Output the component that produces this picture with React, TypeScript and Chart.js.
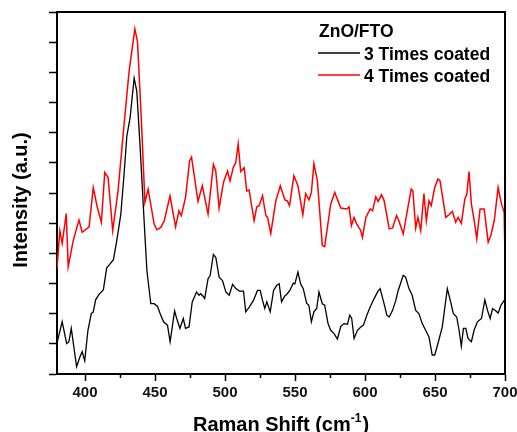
import React, { useEffect, useRef } from "react";
import { Chart, registerables } from "chart.js";

Chart.register(...registerables);

// Raman spectrum, ZnO/FTO, 3 times coated (black)
const shift3 = [380, 383.7, 386.9, 388.5, 390.2, 394, 396.4, 398, 399.8, 402.1, 404.5, 405.9, 407.6, 410, 413.1, 415.5, 417.9, 420.3, 422.7, 425.6, 427.9, 429.9, 432.2, 435.1, 437, 439.4, 441.7, 444.2, 447, 449.4, 451.8, 453.7, 456.1, 458.9, 460.8, 464, 465.9, 467.8, 470.2, 471.8, 474.3, 476.6, 479.7, 481.4, 482.6, 484.5, 485.5, 487.9, 489.4, 491.7, 493.4, 495.8, 498.2, 500.6, 503, 505.4, 507.8, 510.2, 513.2, 514.8, 517.3, 520.3, 523.2, 525.1, 526.8, 528.4, 529.9, 532.3, 534.7, 537, 538.7, 540.4, 542.6, 544.5, 546.3, 548.8, 549.9, 552.1, 554, 555.9, 558.3, 559.9, 561.7, 563.5, 565.5, 567.1, 569.5, 571.2, 573.6, 575.5, 577.9, 580.3, 582.7, 585, 587.5, 589.1, 590.5, 592.2, 594.6, 597, 598.9, 601.3, 603.7, 606.5, 609, 610.8, 613.3, 615.6, 617.3, 619.7, 622, 623.6, 627.3, 629, 631.4, 633.7, 636.2, 638.5, 640.9, 643.3, 645.7, 648, 649.8, 652.1, 655.2, 658.8, 661.2, 663.1, 665.5, 667.2, 668.8, 670.3, 672, 673.6, 676, 677.9, 680.3, 683.2, 685.6, 687.5, 689.4, 691.1, 693.5, 695.1, 697.1, 699.4, 700];
const intensity3 = [1.03, 1.73, 1.01, 1.07, 1.51, 0.24, 0.57, 0.74, 0.44, 1.45, 2.0, 2.06, 2.46, 2.64, 2.79, 3.52, 3.65, 3.79, 4.42, 5.3, 6.62, 7.89, 8.49, 9.81, 9.37, 7.5, 5.52, 3.43, 2.33, 2.33, 2.24, 2.0, 1.73, 1.62, 1.07, 2.09, 1.78, 1.51, 1.84, 1.51, 1.56, 2.39, 2.72, 2.61, 2.66, 2.57, 2.5, 3.16, 3.27, 3.96, 3.87, 3.21, 3.1, 2.72, 2.61, 2.97, 2.83, 2.75, 2.75, 2.06, 2.22, 2.44, 2.77, 2.77, 2.44, 2.17, 2.39, 2.06, 2.77, 2.94, 2.99, 2.39, 2.58, 2.66, 2.77, 3.01, 2.99, 3.38, 2.99, 2.83, 2.35, 2.28, 1.73, 2.06, 2.17, 2.72, 2.33, 2.28, 1.67, 1.45, 1.34, 1.16, 1.58, 1.67, 1.65, 1.95, 1.84, 1.18, 1.45, 1.56, 1.62, 1.95, 2.22, 2.5, 2.72, 2.83, 2.39, 1.95, 1.89, 2.11, 2.44, 2.75, 3.27, 3.21, 2.83, 2.61, 2.11, 2.0, 1.67, 1.45, 1.23, 0.63, 0.63, 1.01, 1.56, 2.83, 2.39, 2.0, 1.89, 1.45, 0.92, 1.51, 1.51, 1.18, 1.07, 1.45, 1.73, 1.84, 2.46, 2.11, 1.84, 2.17, 2.09, 2.02, 2.28, 2.44, 2.44];

// 4 times coated (red)
const shift4 = [380, 382, 383.7, 386.6, 388, 391.6, 395.7, 398, 402.9, 405.9, 408.8, 411.7, 414.1, 416.5, 419.8, 423.6, 427.9, 431.5, 435.6, 437.5, 440.3, 442.8, 445.1, 449.4, 451.3, 454.2, 456.6, 460.7, 464.7, 467.1, 468.8, 471.8, 474.7, 476.1, 480.7, 483.8, 487.9, 491.7, 493.4, 495.8, 498.9, 501.8, 503.6, 506, 507.7, 509.4, 511.2, 513.7, 515.5, 517.2, 520.8, 522.7, 524.4, 526.8, 529.2, 530.4, 532.7, 536.3, 539.5, 542.8, 544.5, 546.1, 549.2, 552.1, 555.6, 557.6, 560, 561.7, 563.5, 566, 569.5, 571.2, 575.5, 578.4, 582.7, 587, 588.6, 590.3, 592.2, 594.1, 597, 598.2, 600.6, 603.7, 605.4, 607.7, 609.4, 611.8, 613.7, 617.3, 619.7, 622.5, 624.2, 627.3, 630.2, 633, 634.2, 636.2, 637.8, 639.8, 642.1, 643.8, 645.7, 647.3, 649.8, 652.1, 653.6, 657.7, 660, 662.4, 664.8, 666.5, 668.8, 671.3, 672.7, 674.3, 676, 678.4, 679.8, 682.2, 685.1, 688, 689.9, 692.3, 695.1, 697.5, 699.4, 700];
const intensity4 = [3.49, 4.75, 4.33, 5.32, 3.56, 4.42, 5.1, 4.7, 4.88, 6.18, 5.52, 5.03, 6.68, 6.51, 4.75, 6.07, 8.27, 10.03, 11.44, 11.02, 8.38, 5.69, 6.13, 4.97, 4.78, 4.86, 5.08, 5.9, 4.88, 5.41, 5.25, 5.85, 7.06, 7.19, 5.72, 6.24, 5.3, 6.95, 6.73, 5.5, 6.35, 6.73, 6.4, 6.86, 7.01, 7.63, 6.71, 6.84, 6.07, 6.1, 5.08, 5.54, 5.58, 5.91, 5.25, 5.19, 4.66, 5.74, 6.24, 5.77, 5.74, 5.58, 6.57, 6.24, 5.28, 5.98, 5.77, 6.02, 6.97, 6.4, 4.26, 4.22, 5.63, 6.02, 5.5, 5.47, 5.54, 4.92, 5.19, 4.97, 4.75, 4.53, 5.19, 5.47, 5.41, 5.87, 5.72, 5.94, 5.74, 4.81, 4.84, 5.25, 5.08, 4.64, 5.41, 6.13, 6.07, 4.84, 5.19, 4.75, 5.98, 5.08, 5.74, 5.58, 6.18, 6.46, 6.4, 5.19, 5.28, 5.39, 5.03, 5.19, 4.99, 5.8, 5.96, 6.71, 5.63, 4.97, 4.48, 5.47, 5.47, 4.37, 4.59, 5.08, 6.18, 5.63, 5.36, 3.82];

const seriesLabels = ["3 Times coated", "4 Times coated"];
const legendTitle = "ZnO/FTO";
const xTitleMain = "Raman Shift (cm";
const xTitleSup = "-1";
const xTitleEnd = ")";
const yTitle = "Intensity (a.u.)";
const xMin = 380;
const xMax = 700;
const xMajorStep = 50;
const xMinorStep = 25;
const yMin = 0;
const yMax = 12;
const yStep = 1;

const FONT = '"Liberation Sans", Arial, sans-serif';

const decorPlugin = {
  id: "decor",
  afterDraw(chart: any) {
    const { ctx, chartArea: a, scales } = chart;
    const xs = scales.x;
    ctx.save();
    // frame top & right
    ctx.strokeStyle = "#000";
    ctx.lineWidth = 2;
    ctx.beginPath();
    ctx.moveTo(a.left - 1, a.top);
    ctx.lineTo(a.right, a.top);
    ctx.lineTo(a.right, a.bottom);
    ctx.stroke();
    // minor x ticks
    ctx.lineWidth = 1.5;
    ctx.beginPath();
    for (let v = xMin; v <= xMax; v += 1) {
      if (v % xMinorStep === 0 && v % xMajorStep !== 0) {
        const px = Math.round(xs.getPixelForValue(v)) + 0.5;
        ctx.moveTo(px, a.bottom);
        ctx.lineTo(px, a.bottom + 4);
      }
    }
    ctx.stroke();
    // x title with superscript
    ctx.fillStyle = "#000";
    ctx.textBaseline = "alphabetic";
    ctx.textAlign = "left";
    const mainFont = `bold 20px ${FONT}`;
    const supFont = `bold 12px ${FONT}`;
    ctx.font = mainFont;
    const w1 = ctx.measureText(xTitleMain).width;
    const w3 = ctx.measureText(xTitleEnd).width;
    ctx.font = supFont;
    const w2 = ctx.measureText(xTitleSup).width;
    const total = w1 + w2 + w3 + 1;
    let sx = (a.left + a.right) / 2 - total / 2;
    const base = 431;
    ctx.font = mainFont;
    ctx.fillText(xTitleMain, sx, base);
    sx += w1;
    ctx.font = supFont;
    ctx.fillText(xTitleSup, sx, base - 9);
    sx += w2 + 1;
    ctx.font = mainFont;
    ctx.fillText(xTitleEnd, sx, base);
    // y title
    ctx.save();
    ctx.translate(27, 200);
    ctx.rotate(-Math.PI / 2);
    ctx.textAlign = "center";
    ctx.font = `bold 20px ${FONT}`;
    ctx.fillText(yTitle, 0, 0);
    ctx.restore();
    // legend
    ctx.font = `bold 17.5px ${FONT}`;
    ctx.textAlign = "left";
    ctx.fillText(legendTitle, 319, 37);
    const ds = chart.data.datasets;
    ds.forEach((d: any, i: number) => {
      const cy = 53 + i * 22;
      ctx.strokeStyle = d.borderColor;
      ctx.lineWidth = 1.5;
      ctx.beginPath();
      ctx.moveTo(318, cy);
      ctx.lineTo(360, cy);
      ctx.stroke();
      ctx.fillStyle = "#000";
      ctx.fillText(d.label, 364, cy + 6.5);
    });
    ctx.restore();
  },
};

export default function App() {
  const ref = useRef<HTMLCanvasElement | null>(null);
  useEffect(() => {
    if (!ref.current) return;
    const chart = new Chart(ref.current, {
      type: "line",
      data: {
        datasets: [
          {
            label: seriesLabels[0],
            data: shift3.map((x, i) => ({ x, y: intensity3[i] })),
            borderColor: "#000000",
            borderWidth: 1.3,
            pointRadius: 0,
            tension: 0,
            fill: false,
          },
          {
            label: seriesLabels[1],
            data: shift4.map((x, i) => ({ x, y: intensity4[i] })),
            borderColor: "#ff0000",
            borderWidth: 1.5,
            pointRadius: 0,
            tension: 0,
            fill: false,
          },
        ],
      },
      options: {
        animation: false,
        responsive: false,
        maintainAspectRatio: false,
        devicePixelRatio: 1,
        layout: { padding: { top: 12, right: 12, left: 0, bottom: 0 } },
        plugins: { legend: { display: false }, tooltip: { enabled: false } },
        scales: {
          x: {
            type: "linear",
            min: xMin,
            max: xMax,
            afterFit: (s: any) => {
              s.height = 58;
              s.paddingLeft = 0;
              s.paddingRight = 0;
            },
            ticks: {
              stepSize: xMajorStep,
              includeBounds: false,
              padding: 3,
              color: "#111",
              font: { family: FONT, size: 15, weight: "bold" },
              maxRotation: 0,
              autoSkip: false,
            },
            grid: {
              drawOnChartArea: false,
              drawTicks: true,
              tickLength: 7,
              tickWidth: 1.5,
              tickColor: "#000",
            },
            border: { display: true, color: "#000", width: 2 },
          },
          y: {
            type: "linear",
            min: yMin,
            max: yMax,
            afterFit: (s: any) => {
              s.width = 57;
              s.paddingTop = 0;
              s.paddingBottom = 0;
            },
            ticks: {
              stepSize: yStep,
              callback: () => "",
              padding: 0,
            },
            grid: {
              drawOnChartArea: false,
              drawTicks: true,
              tickLength: 8,
              tickWidth: 1.5,
              tickColor: "#000",
            },
            border: { display: true, color: "#000", width: 2 },
          },
        },
      },
      plugins: [decorPlugin],
    });
    return () => chart.destroy();
  }, []);
  return (
    <div style={{ position: "fixed", left: 0, top: 0, width: 517, height: 432, background: "#fff" }}>
      <canvas ref={ref} width={517} height={432} />
    </div>
  );
}
